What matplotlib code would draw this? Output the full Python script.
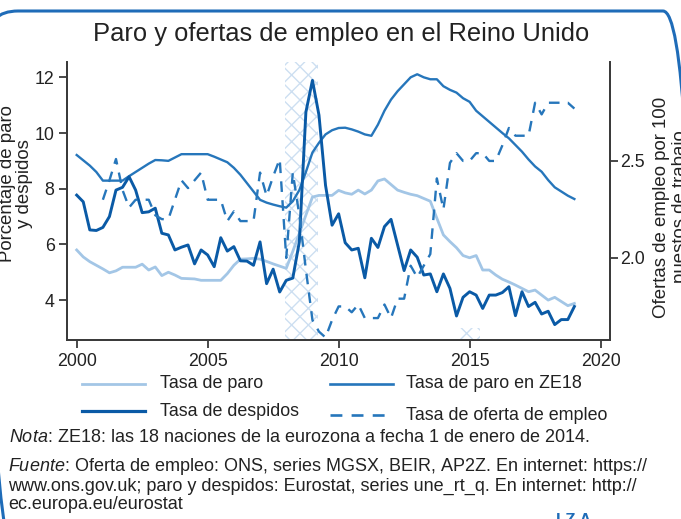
import numpy as np
import pandas as pd
import matplotlib
matplotlib.use("Agg")
import matplotlib.pyplot as plt
from matplotlib.lines import Line2D
from matplotlib.patches import FancyBboxPatch, Rectangle
from matplotlib.transforms import Affine2D

# ---------------- data ----------------
quarters = pd.period_range("2000Q1", "2019Q1", freq="Q")
vac_quarters = pd.period_range("2001Q1", "2019Q1", freq="Q")

tasa_paro = [5.80, 5.55, 5.38, 5.25, 5.12, 4.98, 5.05, 5.18, 5.18, 5.18, 5.29, 5.08,
             5.19, 4.88, 5.00, 4.90, 4.78, 4.77, 4.76, 4.71, 4.71, 4.71, 4.71, 4.95,
             5.25, 5.47, 5.48, 5.50, 5.47, 5.39, 5.30, 5.22, 5.14, 5.75, 6.40, 7.05,
             7.70, 7.76, 7.76, 7.76, 7.94, 7.85, 7.80, 7.95, 7.81, 7.95, 8.28, 8.35,
             8.15, 7.95, 7.87, 7.80, 7.75, 7.65, 7.55, 6.94, 6.34, 6.10, 5.88, 5.60,
             5.52, 5.60, 5.08, 5.08, 4.90, 4.75, 4.65, 4.54, 4.42, 4.30, 4.36, 4.18,
             4.00, 4.10, 3.95, 3.80, 3.88]

tasa_paro_ze18 = [9.21, 9.02, 8.83, 8.60, 8.29, 8.29, 8.29, 8.29, 8.45, 8.60, 8.75, 8.90,
                  9.03, 9.02, 9.00, 9.12, 9.24, 9.24, 9.24, 9.24, 9.24, 9.15, 9.05, 8.95,
                  8.75, 8.50, 8.20, 7.90, 7.60, 7.50, 7.43, 7.37, 7.32, 7.55, 7.95, 8.60,
                  9.30, 9.65, 9.95, 10.10, 10.18, 10.19, 10.13, 10.05, 9.95, 9.90, 10.30, 10.80,
                  11.20, 11.50, 11.75, 12.00, 12.11, 12.00, 11.93, 11.93, 11.68, 11.55, 11.45, 11.25,
                  11.12, 10.80, 10.60, 10.40, 10.20, 10.00, 9.81, 9.57, 9.33, 9.05, 8.80, 8.61,
                  8.31, 8.05, 7.90, 7.75, 7.63]

tasa_despidos = [7.77, 7.53, 6.52, 6.50, 6.61, 7.00, 7.95, 8.05, 8.43, 7.95, 7.14, 7.17,
                 7.30, 6.40, 6.34, 5.80, 5.90, 5.98, 5.30, 5.80, 5.62, 5.20, 6.24, 5.76,
                 5.92, 5.41, 5.40, 5.25, 6.09, 4.59, 5.11, 4.29, 4.71, 4.79, 6.09, 10.75,
                 11.89, 10.64, 8.12, 6.69, 7.10, 6.06, 5.80, 5.86, 4.80, 6.22, 5.89, 6.64,
                 6.90, 5.98, 5.06, 5.80, 5.54, 4.90, 4.94, 4.30, 4.94, 4.42, 3.43, 4.10,
                 4.30, 4.18, 3.70, 4.18, 4.18, 4.27, 4.48, 3.44, 4.30, 3.77, 3.92, 3.50,
                 3.60, 3.12, 3.30, 3.30, 3.77]

tasa_ofertas = [2.30, 2.40, 2.51, 2.35, 2.26, 2.30, 2.30, 2.30, 2.22, 2.20, 2.20, 2.30,
                2.40, 2.36, 2.40, 2.44, 2.30, 2.30, 2.30, 2.19, 2.24, 2.19, 2.19, 2.19,
                2.44, 2.32, 2.42, 2.51, 2.00, 2.44, 2.22, 1.94, 1.68, 1.62, 1.59, 1.68,
                1.75, 1.75, 1.72, 1.76, 1.69, 1.69, 1.69, 1.76, 1.69, 1.79, 1.79, 1.96,
                1.90, 1.96, 2.02, 2.41, 2.25, 2.49, 2.54, 2.50, 2.50, 2.54, 2.54, 2.50,
                2.50, 2.58, 2.67, 2.63, 2.63, 2.63, 2.80, 2.74, 2.80, 2.80, 2.80, 2.80,
                2.77]

recesion = (2007.95, 2009.22)
marca_2015 = (2014.5, 2015.4)

year_ticks = [2000, 2005, 2010, 2015, 2020]
left_ticks = [4, 6, 8, 10, 12]
right_ticks = [2.0, 2.5]

title = "Paro y ofertas de empleo en el Reino Unido"
ylabel_left = "Porcentaje de paro\ny despidos"
ylabel_right = "Ofertas de empleo por 100\npuestos de trabajo"
legend_labels = ["Tasa de paro", "Tasa de paro en ZE18",
                 "Tasa de despidos", "Tasa de oferta de empleo"]
nota = r"$\it{Nota}$: ZE18: las 18 naciones de la eurozona a fecha 1 de enero de 2014."
fuente = (r"$\it{Fuente}$: Oferta de empleo: ONS, series MGSX, BEIR, AP2Z. En internet: https://" "\n"
          "www.ons.gov.uk; paro y despidos: Eurostat, series une_rt_q. En internet: http://\n"
          "ec.europa.eu/eurostat")

# ---------------- style ----------------
FONT = "Liberation Sans"
plt.rcParams["font.family"] = [FONT, "DejaVu Sans"]
plt.rcParams["mathtext.fontset"] = "custom"
plt.rcParams["mathtext.it"] = FONT + ":italic"
plt.rcParams["mathtext.rm"] = FONT
plt.rcParams["hatch.linewidth"] = 1.0

C_LIGHT = "#a3c6e6"
C_MID = "#2676bb"
C_DARK = "#0a5aa6"
C_HATCH = "#cddff1"
C_AX = "#3a3a3a"
C_TXT = "#222222"
C_FRAME = "#1f6cb8"

FS_TICK = 12.8
FS_TITLE = 18.4
FS_LEG = 12.85
FS_NOTE = 12.95
FS_LAB_L = 13.4
FS_LAB_R = 13.4

W, H = 681, 519
fig = plt.figure(figsize=(W / 100, H / 100), dpi=100)

def fx(px):
    return px / W

def fy(py):
    return 1 - py / H

ax = fig.add_axes([fx(67), fy(340), fx(610 - 67), (340 - 62) / H])
ax2 = ax.twinx()

t = [q.year + (q.quarter - 1) / 4 for q in quarters]
tv = [q.year + (q.quarter - 1) / 4 for q in vac_quarters]

ax.set_xlim(1999.63, 2020.36)
ax.set_ylim(2.567, 12.55)
ax2.set_ylim(1.577, 3.01)

# recession band and small hatched mark
ax.axvspan(recesion[0], recesion[1], facecolor="none", edgecolor=C_HATCH,
           hatch="xx", linewidth=0, zorder=0)
ax.add_patch(Rectangle((marca_2015[0], 2.567), marca_2015[1] - marca_2015[0], 0.42,
                       facecolor="none", edgecolor=C_HATCH, hatch="xx", linewidth=0, zorder=0))

ax.plot(t, tasa_paro, color=C_LIGHT, lw=2.0, zorder=2)
ax.plot(t, tasa_paro_ze18, color=C_MID, lw=1.7, zorder=3)
ax.plot(t, tasa_despidos, color=C_DARK, lw=2.1, zorder=4)
ax2.plot(tv, tasa_ofertas, color=C_MID, lw=1.7, linestyle=(0, (4.5, 3.5)), zorder=3)

for a in (ax, ax2):
    a.spines["top"].set_visible(False)
    for sp in ("left", "right", "bottom"):
        a.spines[sp].set_color(C_AX)
        a.spines[sp].set_linewidth(1.3)
    a.patch.set_visible(False)

ax.set_xticks(year_ticks)
ax.set_xticklabels([str(y) for y in year_ticks])
ax.set_yticks(left_ticks)
ax.set_yticklabels([str(v) for v in left_ticks])
ax2.set_yticks(right_ticks)
ax2.set_yticklabels([f"{v:.1f}" for v in right_ticks])
ax.tick_params(axis="both", direction="out", length=6, width=1.3, color=C_AX,
               labelsize=FS_TICK, labelcolor=C_TXT, pad=3)
ax2.tick_params(axis="y", direction="out", length=6, width=1.3, color=C_AX,
                labelsize=FS_TICK, labelcolor=C_TXT, pad=1)

# axis labels
fig.text(fx(16), fy(184), ylabel_left, rotation=90, ha="center", va="center",
         fontsize=FS_LAB_L, color=C_TXT, linespacing=1.05)
fig.text(fx(671), fy(207), ylabel_right, rotation=90, ha="center", va="center",
         fontsize=FS_LAB_R, color=C_TXT, linespacing=1.1)

# title
fig.text(fx(341), fy(41), title, ha="center", va="baseline", fontsize=FS_TITLE, color=C_TXT)

# manual legend
def leg_item(x0, x1, y, text_x, label, **kw):
    fig.add_artist(Line2D([fx(x0), fx(x1)], [fy(y), fy(y)], transform=fig.transFigure, **kw))
    fig.text(fx(text_x), fy(y), label, ha="left", va="center", fontsize=FS_LEG, color=C_TXT)

leg_item(82, 145, 384, 160, legend_labels[0], color=C_LIGHT, lw=2.0)
leg_item(330, 393, 384, 406, legend_labels[1], color=C_MID, lw=1.9)
leg_item(82, 145, 411, 160, legend_labels[2], color=C_DARK, lw=2.3)
leg_item(330, 393, 415, 406, legend_labels[3], color=C_MID, lw=1.9, linestyle=(0, (4.5, 3.5)))

# notes
fig.text(fx(9), fy(438), nota, ha="left", va="center", fontsize=FS_NOTE, color=C_TXT)
fig.text(fx(8), fy(456), fuente, ha="left", va="top", fontsize=FS_NOTE, color=C_TXT,
         linespacing=1.08)

# frame (in pixel units, y up) and logo
px_tr = Affine2D().scale(1 / W, 1 / H) + fig.transFigure
frame = FancyBboxPatch((-12, -40), 705, H - 11 + 40,
                       boxstyle="round,pad=0,rounding_size=30",
                       transform=px_tr, facecolor="none",
                       edgecolor=C_FRAME, linewidth=2.2, clip_on=False)
fig.add_artist(frame)
fig.text(fx(556), fy(525), "I Z A", ha="left", va="baseline", fontsize=12,
         color=C_FRAME, fontweight="bold")

fig.savefig("out.png", dpi=100)
